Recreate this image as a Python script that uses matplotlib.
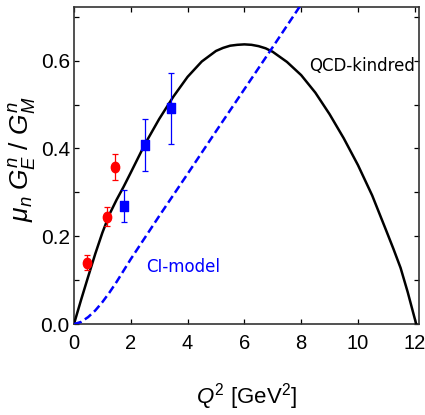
"""
Neutron form-factor ratio mu_n G_E^n / G_M^n vs Q^2:
QCD-kindred curve, CI-model curve and data points.
"""

import numpy as np
import matplotlib
matplotlib.use('Agg')
import matplotlib.pyplot as plt
from matplotlib.path import Path
from matplotlib.transforms import Affine2D
from matplotlib.ticker import MultipleLocator

# ---------------------------------------------------------------------------
# Data
# ---------------------------------------------------------------------------
qcd_q2 = [0.0, 0.25, 0.5, 0.75, 1.0, 1.25, 1.5, 1.75, 2.0, 2.5, 3.0, 3.5,
          4.0, 4.5, 5.0, 5.25, 5.5, 5.75, 6.0, 6.25, 6.5, 6.75, 7.0, 7.5,
          8.0, 8.5, 9.0, 9.5, 10.0, 10.5, 11.0, 11.25, 11.5, 11.75, 12.05]
qcd_val = [0.0, 0.055, 0.108, 0.160, 0.208, 0.250, 0.283, 0.313, 0.345,
           0.410, 0.467, 0.518, 0.563, 0.598, 0.622, 0.629, 0.634, 0.636,
           0.637, 0.636, 0.633, 0.628, 0.620, 0.597, 0.567, 0.527, 0.478,
           0.423, 0.362, 0.293, 0.212, 0.171, 0.128, 0.073, 0.0]

ci_q2 = [0.0, 0.25, 0.5, 0.75, 1.0, 1.25, 1.5, 2.0, 2.5, 3.0, 3.5, 4.0,
         5.0, 6.0, 7.0, 8.0]
ci_val = [0.0, 0.005, 0.016, 0.031, 0.050, 0.072, 0.096, 0.148, 0.197,
          0.246, 0.294, 0.342, 0.439, 0.535, 0.631, 0.728]

red_q2 = [0.46, 1.17, 1.46]
red_val = [0.140, 0.245, 0.358]
red_err = [0.017, 0.021, 0.030]

blue_q2 = [1.76, 2.50, 3.43]
blue_val = [0.269, 0.408, 0.491]
blue_err = [0.037, 0.060, 0.081]

# ---------------------------------------------------------------------------
# Style
# ---------------------------------------------------------------------------
plt.rcParams['font.family'] = ['Liberation Sans', 'DejaVu Sans']
plt.rcParams['mathtext.fontset'] = 'custom'
plt.rcParams['mathtext.rm'] = 'Liberation Sans'
plt.rcParams['mathtext.it'] = 'Liberation Sans:italic'

# slightly tall markers, like the reference
ellipse = Path.unit_circle().transformed(Affine2D().scale(0.8, 1.0))
tall_sq = Path.unit_rectangle().transformed(
    Affine2D().translate(-0.5, -0.5).scale(0.8, 1.0))

fig = plt.figure(figsize=(4.25, 4.15), dpi=100)
ax = fig.add_axes([0.174, 0.219, 0.812, 0.764])

ax.plot(qcd_q2, qcd_val, color='black', lw=1.8, zorder=3)
ax.plot(ci_q2, ci_val, color='#0000ff', lw=1.8, dashes=(3.2, 1.6), zorder=3)

ax.errorbar(red_q2, red_val, yerr=red_err, fmt='none', ecolor='red',
            elinewidth=0.9, capsize=2.2, capthick=0.9, zorder=4)
ax.plot(red_q2, red_val, ls='none', marker=ellipse, ms=7.5,
        color='red', zorder=5)
ax.errorbar(blue_q2, blue_val, yerr=blue_err, fmt='none', ecolor='#0000ff',
            elinewidth=0.9, capsize=2.2, capthick=0.9, zorder=4)
ax.plot(blue_q2, blue_val, ls='none', marker=tall_sq, ms=7.5,
        color='#0000ff', zorder=5)

ax.text(12.0, 0.588, 'QCD-kindred', ha='right', va='center',
        fontsize=12, family='DejaVu Sans', color='black')
ax.text(2.55, 0.131, 'CI-model', ha='left', va='center',
        fontsize=12, family='DejaVu Sans', color='#0000ff')

ax.set_xlim(0, 12.15)
ax.set_ylim(0, 0.722)
ax.xaxis.set_major_locator(MultipleLocator(2))
ax.yaxis.set_minor_locator(MultipleLocator(0.1))
ax.set_yticks([0.0, 0.2, 0.4, 0.6])
ax.set_yticklabels(['0.0', '0.2', '0.4', '0.6'])

ax.tick_params(which='both', direction='in', top=True, right=True,
               length=3.5, width=0.9, colors='black', labelsize=15)
ax.tick_params(axis='x', labelsize=14.5, pad=7)
ax.tick_params(axis='y', pad=3)

for side in ['left', 'right', 'top', 'bottom']:
    ax.spines[side].set_linewidth(1.2)
    ax.spines[side].set_color('#333333')

ax.set_xlabel(r'$Q^2$ [GeV$^2$]', fontsize=16)
ax.xaxis.set_label_coords(0.5, -0.18)
ax.set_ylabel(r'$\mu_n\; G_E^n\ /\ G_M^n$', fontsize=19)
ax.yaxis.set_label_coords(-0.105, 0.52)

fig.savefig('out.png', dpi=100, facecolor='white')
plt.close(fig)
